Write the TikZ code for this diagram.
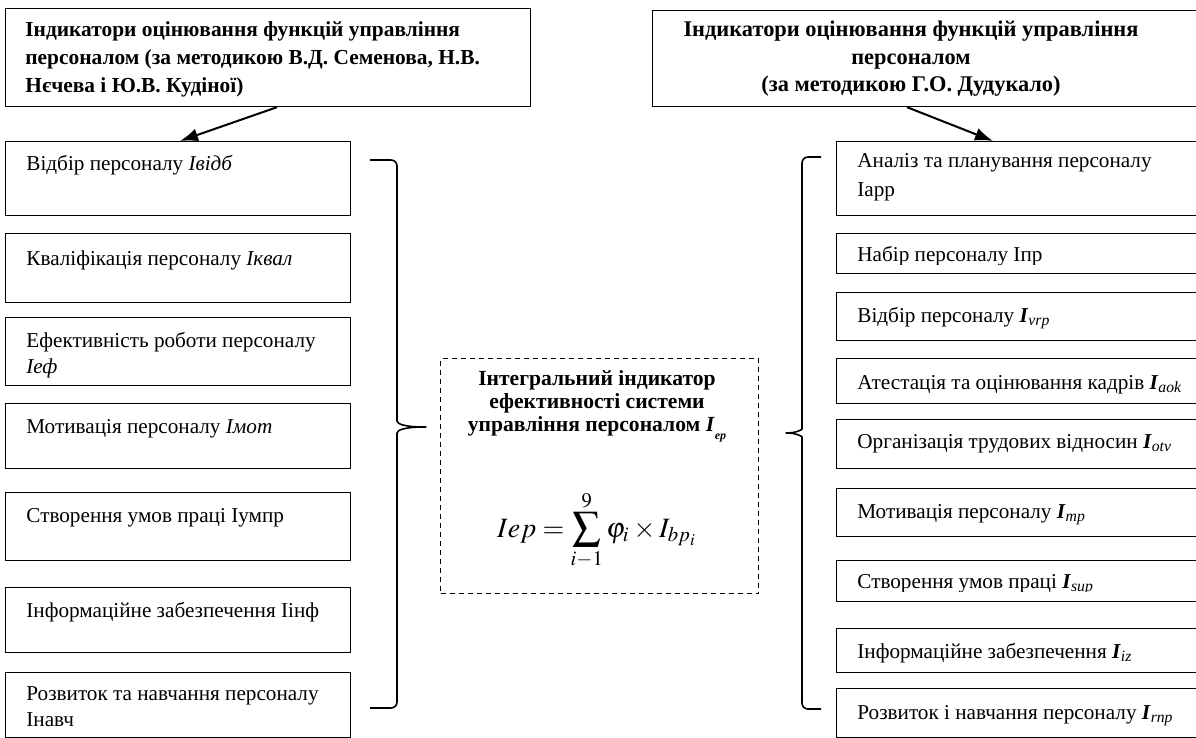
\documentclass[tikz,border=0pt]{standalone}
\usetikzlibrary{arrows.meta}
\usepackage{mathptmx}
\usepackage{fontspec}
\setmainfont{Liberation Serif}
\newcommand{\idxI}[1]{\textbf{\textit{I}}\textsubscript{\textit{#1}}}
\begin{document}
\begin{tikzpicture}[x=.5pt,y=-.5pt,>={Latex[length=9pt,width=6.5pt]},
	lbox/.style={draw,line width=.6pt,inner sep=0,anchor=north west,minimum width=172.5pt},
	rbox/.style={draw,line width=.6pt,inner sep=0,anchor=north west,minimum width=182pt},
	btxt/.style={anchor=base west,inner sep=0,align=left,font=\fontsize{10.6}{13}\selectfont},
	htxt/.style={inner sep=0,font=\fontsize{10.7}{14}\selectfont\bfseries}]
	\useasboundingbox (0,0) rectangle (1196,738);

	\node[draw,line width=.6pt,inner sep=0,anchor=north west,minimum width=262.5pt,minimum height=49pt] (tl) at (5,8) {};
	\node[htxt,anchor=base west,align=left] (tlt) at (25,93) {Індикатори оцінювання функцій управління\\персоналом (за методикою В.Д. Семенова, Н.В.\\Нєчева і Ю.В. Кудіної)};
	\node[draw,line width=.6pt,inner sep=0,anchor=north west,minimum width=274pt,minimum height=48pt] (tr) at (652,10) {};
	\node[htxt,anchor=base,align=center,font=\fontsize{11.2}{13.75}\selectfont\bfseries] (trt) at (911,92) {Індикатори оцінювання функцій управління\\персоналом\\(за методикою Г.О. Дудукало)};

	\foreach \n/\y/\h/\o/\t in {
		1/141/74/30/{Відбір персоналу \textit{Івідб}},
		2/233/69/32/{Кваліфікація персоналу \textit{Іквал}},
		3/317/68/56/{Ефективність роботи персоналу\\\textit{Іеф}},
		4/403/65/30/{Мотивація персоналу \textit{Імот}},
		5/492/68/30/{Створення умов праці Іумпр},
		6/587/65/30/{Інформаційне забезпечення Іінф},
		7/672/65/54/{Розвиток та навчання персоналу\\Інавч}} {
		\node[lbox,minimum height=\h*.5pt] (l\n) at (5,\y) {};
		\node[btxt] (l\n t) at ([xshift=10.5pt,yshift=-\o*.5pt]l\n.north west) {\t};
	}

	\foreach \n/\y/\h/\o/\t/\c in {
		1/141/74/56/{Аналіз та планування персоналу\\Іарр}/215,
		2/233/40/29/{Набір персоналу Іпр}/265,
		3/292/48/30/{Відбір персоналу \idxI{vrp}}/340,
		4/358/45/31/{Атестація та оцінювання кадрів \idxI{aok}}/403,
		5/419/49/29/{Організація трудових відносин \idxI{otv}}/468,
		6/488/48/30/{Мотивація персоналу \idxI{mp}}/536,
		7/560/41/28/{Створення умов праці \idxI{sup}}/591,
		8/628/44/30/{Інформаційне забезпечення \idxI{iz}}/672,
		9/688/49/31/{Розвиток і навчання персоналу \idxI{rnp}}/737} {
		\node[rbox,minimum height=\h*.5pt] (r\n) at (836,\y) {};
		\begin{scope}
			\clip (836,\y) rectangle (1200,\c);
			\node[btxt,font=\fontsize{10.6}{14.5}\selectfont] (r\n t) at ([xshift=10.5pt,yshift=-\o*.5pt]r\n.north west) {\t};
		\end{scope}
	}

	\node[draw,line width=.7pt,dash pattern=on 2.5pt off 2pt,inner sep=0,anchor=north west,minimum width=159pt,minimum height=117.5pt] (ctr) at (440,358) {};
	\node[inner sep=0,anchor=base,align=center,font=\fontsize{10.8}{11.5}\selectfont\bfseries] (ctrt) at (597,431) {Інтегральний індикатор\\ефективності системи\\управління персоналом \textit{I}\raisebox{-4pt}{\fontsize{6}{6}\selectfont\textit{ep}}};
	\node[inner sep=0,anchor=base,font=\fontsize{14}{16}\selectfont] (fml) at (597,537) {$\displaystyle Iep = \sum_{i-1}^{9}\varphi_i \times I_{bp_i}$};

	\draw[->,line width=1pt] ([xshift=136pt]tl.south west) -- ([xshift=87.5pt]l1.north west);
	\draw[->,line width=1pt] ([xshift=127.5pt]tr.south west) -- ([xshift=78.5pt]r1.north west);

	\draw[line width=.8pt,rounded corners=3pt] (370,160) -- (397,160) -- (397,415) .. controls (397,424) and (405,427) .. (430,427) .. controls (405,427) and (397,430) .. (397,439) -- (397,708) -- (370,708);
	\draw[line width=.8pt,rounded corners=3pt] (821,157) -- (802,157) -- (802,423) .. controls (802,430) and (795,433) .. (782,433) .. controls (795,433) and (802,436) .. (802,443) -- (802,709) -- (821,709);
\end{tikzpicture}
\end{document}
